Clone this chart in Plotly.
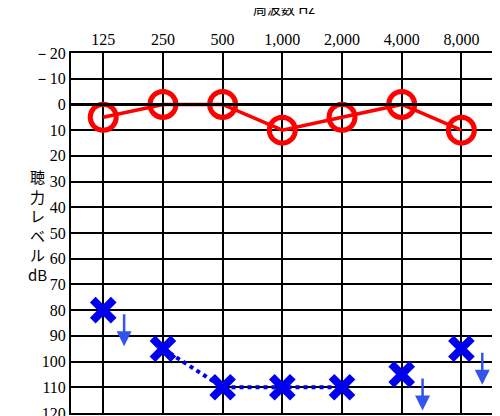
import plotly.graph_objects as go

freqs = ["125", "250", "500", "1,000", "2,000", "4,000", "8,000"]
right_ear = [5, 0, 0, 10, 5, 0, 10]
left_ear = [80, 95, 110, 110, 110, 105, 95]
left_linked = [None, 95, 110, 110, 110, None, None]
no_response = [True, False, False, False, False, True, True]
yticks = list(range(-20, 130, 10))
ylabels = [("－" + str(-v)) if v < 0 else str(v) for v in yticks]

xs = list(range(len(freqs)))
fig = go.Figure()
fig.add_hline(y=0, line=dict(color="black", width=3))
fig.add_trace(go.Scatter(x=xs, y=right_ear, mode="lines+markers",
                         line=dict(color="#ff0000", width=3.5),
                         marker=dict(symbol="circle-open", size=26, color="#ff0000",
                                     line=dict(width=5))))
fig.add_trace(go.Scatter(x=xs, y=left_linked, mode="lines",
                         line=dict(color="#0000ee", width=4, dash="dot")))
fig.add_trace(go.Scatter(x=xs, y=left_ear, mode="markers",
                         marker=dict(symbol="x-thin-open", size=21, color="#0000ee",
                                     line=dict(width=8, color="#0000ee"))))
for x, y, nr in zip(xs, left_ear, no_response):
    if nr:
        fig.add_annotation(x=x + 0.35, y=y + 14, ax=x + 0.35, ay=y + 1,
                           xref="x", yref="y", axref="x", ayref="y",
                           showarrow=True, arrowhead=2, arrowsize=1.2,
                           arrowwidth=2.5, arrowcolor="#3355ee", text="")

fig.add_annotation(x=0.5, y=1.0, xref="paper", yref="paper", yshift=33,
                   yanchor="bottom", text="周波数 Hz", showarrow=False,
                   font=dict(family="Noto Sans CJK JP", size=14, color="black"))
fig.add_annotation(x=-0.105, y=0.52, xref="paper", yref="paper",
                   text="聴<br>力<br>レ<br>ベ<br>ル<br>dB", showarrow=False,
                   font=dict(family="Noto Sans CJK JP", size=15, color="black"))

fig.update_xaxes(range=[-0.54, 6.58], tickvals=xs, ticktext=freqs, side="top",
                 showgrid=True, gridcolor="black", gridwidth=1.5, zeroline=False,
                 showline=True, mirror=True, linecolor="black", linewidth=2,
                 ticks="", automargin=False,
                 tickfont=dict(family="Liberation Serif", size=16, color="black"))
fig.update_yaxes(range=[120, -20], tickvals=yticks, ticktext=ylabels,
                 showgrid=True, gridcolor="black", gridwidth=1.5, zeroline=False,
                 showline=True, mirror=True, linecolor="black", linewidth=2,
                 ticks="", automargin=False,
                 tickfont=dict(family="Liberation Serif", size=16, color="black"))
fig.update_layout(width=500, height=416, showlegend=False,
                  margin=dict(l=63, r=12, t=45, b=11),
                  plot_bgcolor="white", paper_bgcolor="white")
fig.write_html("out.html")
